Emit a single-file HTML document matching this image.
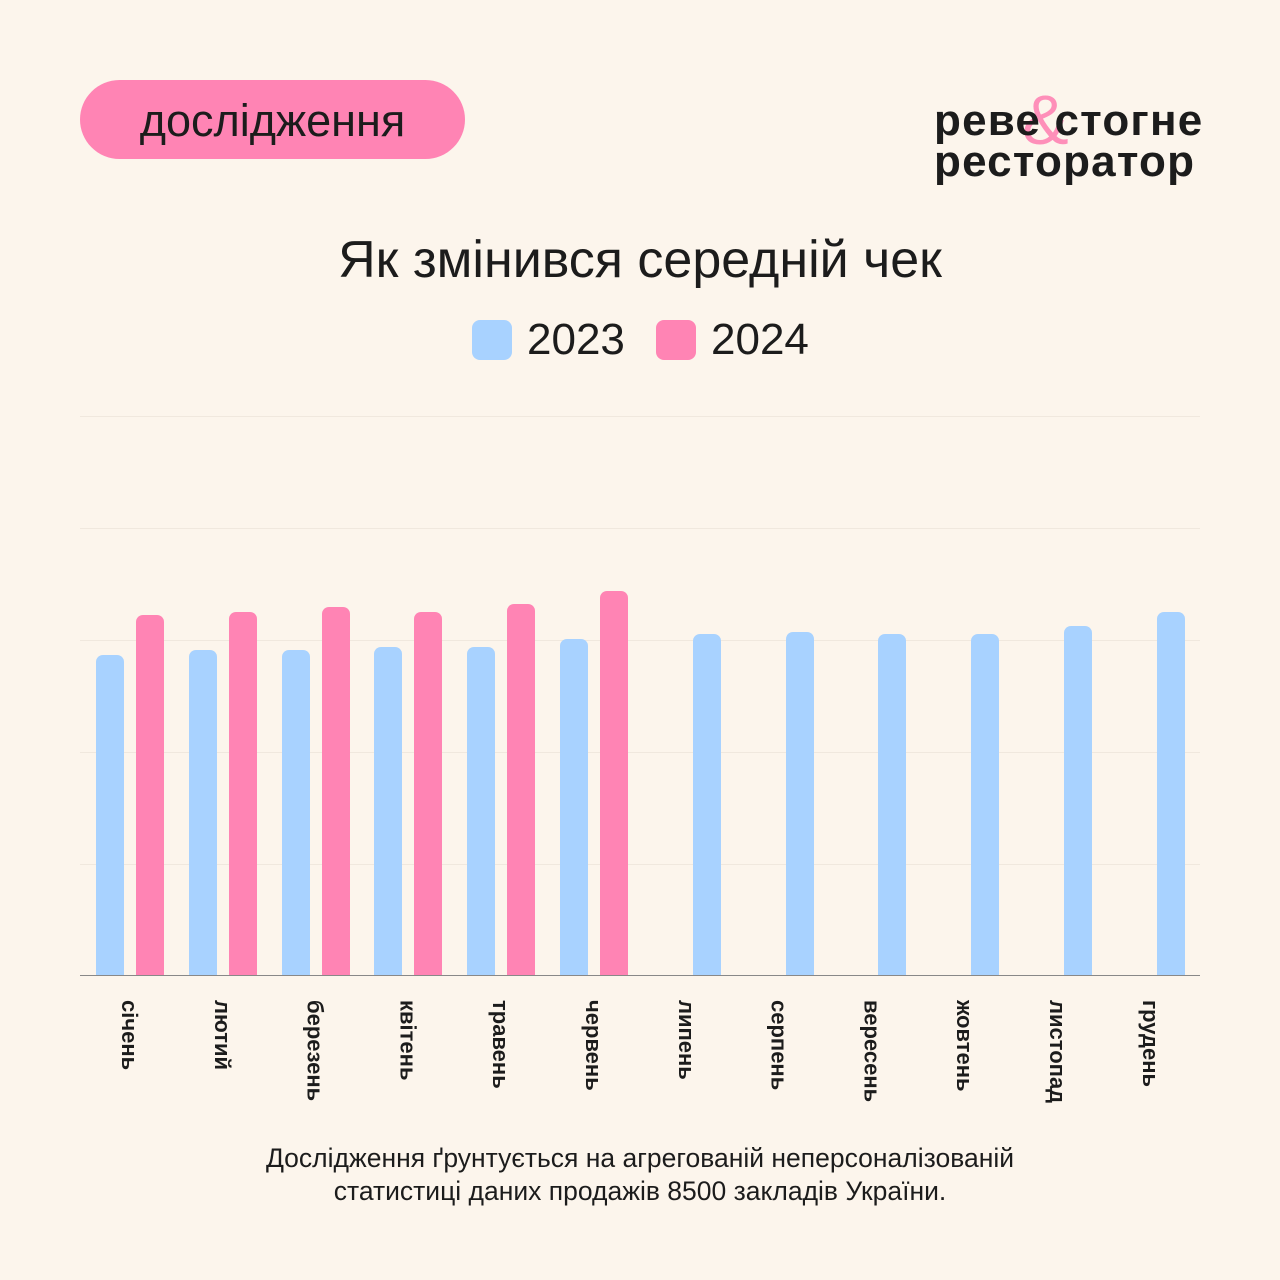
<!DOCTYPE html>
<html><head><meta charset="utf-8"><style>
body{margin:0;width:1280px;height:1280px;background:#fcf5ec;font-family:"Liberation Sans",sans-serif;color:#1c1c1c;position:relative;overflow:hidden}
.pill{position:absolute;left:80px;top:80px;width:385px;height:79px;border-radius:40px;background:#ff84b4;font-size:45px;line-height:82px;text-align:center}
.logo{position:absolute;left:934px;top:100px;font-weight:bold;font-size:44px;line-height:41px;letter-spacing:1.2px}
.amp{position:absolute;left:1022px;top:80px;font-size:70px;color:#ff84b4;font-weight:normal;opacity:.9}
.title{position:absolute;top:230px;left:0;width:1280px;text-align:center;font-size:52px}
.leg{position:absolute;top:318px;font-size:44px;line-height:44px}
.sw{position:absolute;top:320px;width:40px;height:40px;border-radius:8px}
.grid{position:absolute;left:80px;width:1120px;height:1px;background:#f0e8de}
.bar{position:absolute;width:28px;border-radius:7px 7px 0 0}
.b{background:#a8d2ff}.p{background:#ff84b4}
.lab{position:absolute;top:1000px;writing-mode:vertical-rl;font-weight:bold;font-size:22px;width:26px}
.foot{position:absolute;top:1142px;left:0;width:1280px;text-align:center;font-size:26.5px;line-height:33px}
</style></head><body>
<div class="pill">дослідження</div>
<div class="amp">&amp;</div>
<div class="logo">реве стогне<br>ресторатор</div>
<div class="title">Як змінився середній чек</div>
<div class="sw b" style="left:472px"></div><div class="leg" style="left:527px">2023</div>
<div class="sw p" style="left:656px"></div><div class="leg" style="left:711px">2024</div>
<div class="grid" style="top:416px"></div><div class="grid" style="top:528px"></div><div class="grid" style="top:640px"></div><div class="grid" style="top:752px"></div><div class="grid" style="top:864px"></div>
<div class="grid" style="top:975px;background:#888"></div>
<div id="bars"></div>
<div class="foot">Дослідження ґрунтується на агрегованій неперсоналізованій<br>статистиці даних продажів 8500 закладів України.</div>
<script>
var b=[655,650,650,647,647,639,634,632,634,634,626,612],p=[615,612,607,612,604,591];
var n=["січень","лютий","березень","квітень","травень","червень","липень","серпень","вересень","жовтень","листопад","грудень"];
var h="";
for(var i=0;i<12;i++){var x=96+i*92.8;
var bx=i<6?x:x+40;
h+='<div class="bar b" style="left:'+bx+'px;top:'+b[i]+'px;height:'+(975-b[i])+'px"></div>';
if(i<6)h+='<div class="bar p" style="left:'+(x+40)+'px;top:'+p[i]+'px;height:'+(975-p[i])+'px"></div>';
h+='<div class="lab" style="left:'+(x+20)+'px">'+n[i]+'</div>';}
document.getElementById("bars").innerHTML=h;
</script>
</body></html>
